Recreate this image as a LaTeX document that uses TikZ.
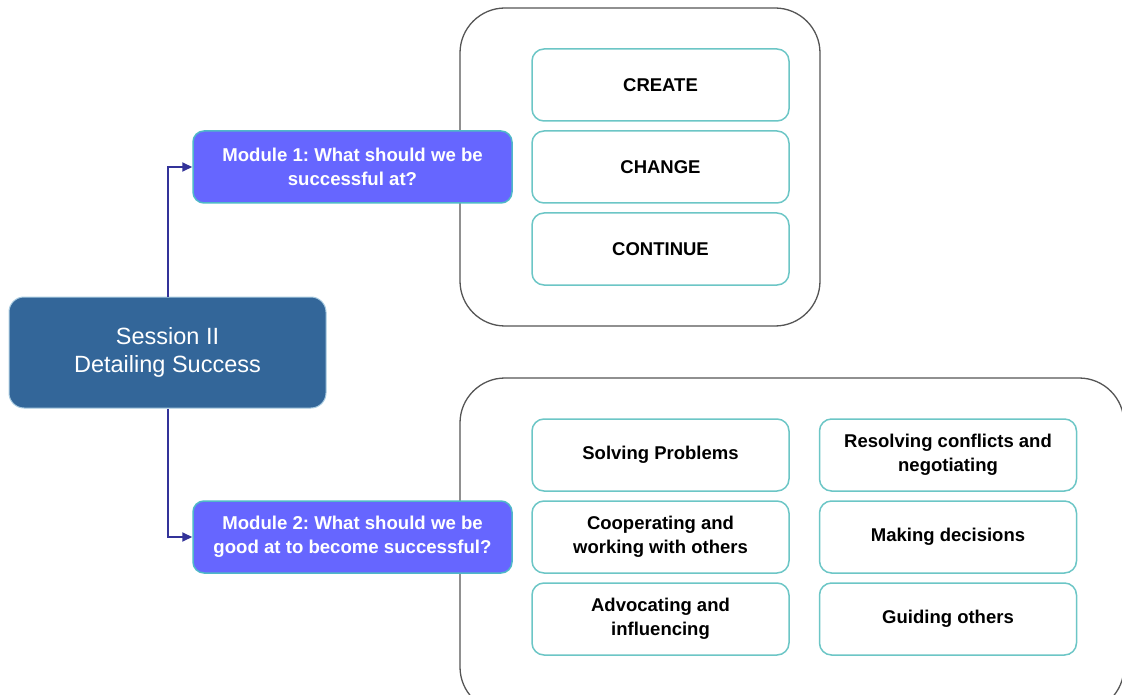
\documentclass[tikz,border=0pt]{standalone}
\usepackage{fontspec}
\setmainfont{Liberation Sans}
\frenchspacing
\usetikzlibrary{arrows.meta}
\definecolor{modfill}{HTML}{6666FF}
\definecolor{modline}{HTML}{4FB8C8}
\definecolor{sessfill}{HTML}{336699}
\definecolor{sessline}{HTML}{A9CBE0}
\definecolor{itemline}{HTML}{6CC6C6}
\definecolor{conncol}{HTML}{333399}
\definecolor{outerline}{HTML}{555555}
\tikzset{
  every node/.style={inner sep=0pt, align=center},
  session/.style={draw=sessline, line width=1pt, fill=sessfill, rounded corners=15pt,
    minimum width=317pt, minimum height=111pt, text=white,
    font=\fontsize{23.5}{28}\selectfont},
  module/.style={draw=modline, line width=1.5pt, fill=modfill, rounded corners=11pt,
    minimum width=319pt, minimum height=72pt, text=white,
    font=\bfseries\fontsize{18.6}{24}\selectfont},
  item/.style={draw=itemline, line width=1.5pt, fill=white, rounded corners=12pt,
    minimum width=257pt, minimum height=72pt, text=black,
    font=\bfseries\fontsize{18.5}{24}\selectfont},
  outer/.style={draw=outerline, line width=1.3pt, rounded corners=45pt},
  conn/.style={draw=conncol, line width=2pt, -{Triangle[length=10pt,width=9pt]}},
}
\begin{document}
\begin{tikzpicture}[x=1pt,y=-1pt]
\useasboundingbox (0,0) rectangle (1122,695);
\clip (0,0) rectangle (1122,695);
% outer containers
\draw[outer] (460,8) rectangle (820,326);
\draw[outer] (460,378) rectangle (1124,712);
% session
\node[session] (sess) at (167.5,352.5) {Session II\\Detailing Success};
% modules
\node[module] (m1) at (352.5,167) {Module 1: What should we be\\successful at?};
\node[module] (m2) at (352.5,537) {Module 2: What should we be\\good at to become successful?};
% top items
\node[item] (create) at (660.5,85) {CREATE};
\node[item] (change) at (660.5,167) {CHANGE};
\node[item] (cont) at (660.5,249) {CONTINUE};
% bottom items
\node[item] (solve) at (660.5,455) {Solving Problems};
\node[item] (coop) at (660.5,537) {Cooperating and\\working with others};
\node[item] (advo) at (660.5,619) {Advocating and\\influencing};
\node[item] (reso) at (948,455) {Resolving conflicts and\\negotiating};
\node[item] (make) at (948,537) {Making decisions};
\node[item] (guide) at (948,619) {Guiding others};
% connectors
\draw[conn] (sess.north) |- (m1.west);
\draw[conn] (sess.south) |- (m2.west);
\end{tikzpicture}
\end{document}
